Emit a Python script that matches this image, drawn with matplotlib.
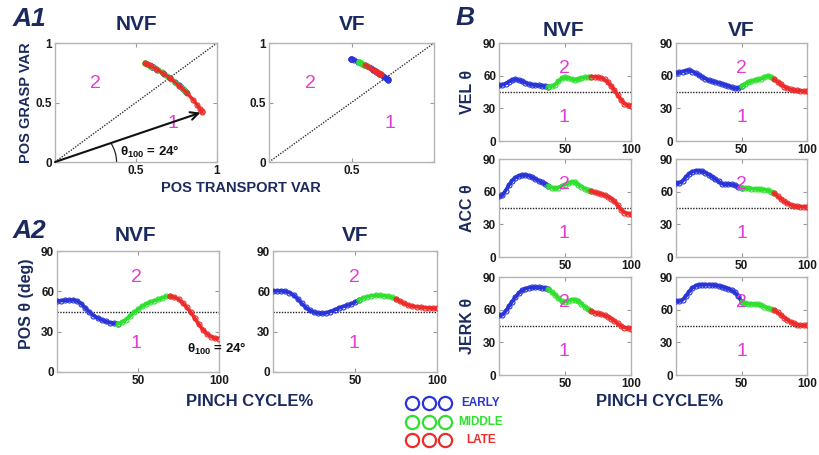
import numpy as np
import matplotlib
matplotlib.use("Agg")
import matplotlib.pyplot as plt
from matplotlib.lines import Line2D
from matplotlib.patches import Arc

plt.rcParams['font.family'] = ['Liberation Sans', 'DejaVu Sans']
plt.rcParams['mathtext.fontset'] = 'custom'
plt.rcParams['mathtext.rm'] = 'Liberation Sans'
plt.rcParams['mathtext.bf'] = 'Liberation Sans:bold'

# ---------------- data ----------------
pct = np.arange(0, 100.1, 2.5)  # pinch cycle %

pos_nvf = [52.8, 53.0, 53.3, 53.5, 53.6, 52.8, 50.8, 47.5, 44.7, 42.0, 40.3, 38.9, 37.6, 36.7,
           36.2, 36.0, 37.0, 39.0, 41.6, 44.4, 46.5, 48.8, 50.5, 52.0, 53.0, 54.0, 55.2, 56.2,
           56.3, 55.6, 54.2, 51.5, 48.2, 44.6, 40.0, 35.5, 31.5, 28.5, 26.3, 25.2, 24.8]
pos_vf = [60.3, 60.3, 60.3, 60.0, 59.0, 57.3, 54.5, 51.0, 48.0, 45.8, 44.5, 43.8, 43.6, 44.0,
          45.0, 46.2, 47.5, 48.6, 49.5, 50.6, 52.0, 53.6, 55.0, 56.0, 56.7, 57.0, 57.0, 56.8,
          56.3, 55.5, 54.3, 52.6, 51.0, 49.8, 49.0, 48.5, 48.1, 47.8, 47.6, 47.5, 47.4]
vel_nvf = [51.1, 51.5, 52.8, 54.5, 56.0, 56.8, 56.0, 54.8, 53.5, 52.4, 51.8, 51.4, 51.1, 50.8,
           50.3, 49.9, 50.3, 51.8, 54.8, 57.5, 58.4, 57.9, 57.0, 56.2, 56.8, 57.9, 58.5, 59.0,
           59.1, 58.9, 58.6, 58.0, 56.5, 54.0, 50.5, 46.5, 42.0, 37.8, 34.3, 32.8, 32.1]
vel_vf = [62.4, 63.0, 63.8, 64.6, 64.8, 63.8, 62.4, 60.5, 58.8, 57.2, 55.8, 54.9, 54.2, 53.4,
          52.5, 51.5, 50.5, 49.3, 48.3, 48.4, 50.2, 52.3, 53.8, 55.0, 55.8, 56.5, 57.3, 58.6,
          60.0, 58.8, 56.5, 54.5, 52.2, 50.0, 48.5, 47.4, 46.8, 46.4, 46.1, 45.8, 45.6]
acc_nvf = [55.7, 56.5, 61.0, 66.0, 70.2, 73.0, 74.5, 75.2, 75.3, 74.7, 73.3, 71.6, 70.1, 68.6,
           67.0, 65.2, 63.6, 63.0, 63.8, 65.3, 66.5, 67.8, 69.0, 68.8, 66.5, 64.5, 62.7, 61.3,
           60.5, 59.5, 58.7, 57.9, 56.8, 55.3, 53.6, 51.0, 47.3, 43.5, 40.8, 39.8, 39.5]
acc_vf = [67.7, 68.0, 69.7, 73.3, 76.5, 78.3, 79.2, 79.3, 78.8, 77.3, 75.7, 73.7, 71.5, 69.4,
          67.4, 66.8, 67.0, 66.6, 65.7, 64.6, 63.3, 63.1, 63.1, 62.8, 62.5, 62.3, 62.0, 61.8,
          61.4, 60.0, 58.4, 56.0, 53.5, 51.2, 49.3, 48.0, 46.9, 46.4, 46.2, 46.2, 46.2]
jerk_nvf = [54.8, 55.3, 58.5, 63.0, 67.5, 71.8, 75.2, 77.7, 79.3, 80.2, 80.5, 80.6, 80.5, 80.3,
            79.8, 78.8, 76.2, 73.8, 70.5, 67.8, 67.3, 68.0, 69.3, 69.3, 68.0, 65.5, 62.8, 60.3,
            58.5, 57.3, 56.5, 55.7, 54.8, 53.5, 51.7, 49.6, 47.3, 45.1, 43.6, 42.8, 42.6]
jerk_vf = [67.7, 67.8, 69.0, 72.3, 76.5, 80.0, 82.0, 82.8, 83.0, 83.0, 83.0, 82.8, 82.4, 81.8,
           81.2, 80.3, 79.2, 77.8, 75.8, 72.5, 67.5, 65.8, 65.5, 65.3, 65.1, 64.8, 64.0, 62.8,
           61.6, 60.7, 59.6, 57.5, 55.2, 52.8, 50.7, 48.8, 47.4, 46.3, 45.8, 45.6, 45.5]

# phase boundaries (pinch cycle %): end of EARLY, end of MIDDLE
phase_nvf = [37.5, 70.0]
phase_vf_pos = [52.5, 75.0]
phase_vf_b = [50.0, 75.0]

theta_100 = 24  # deg
boundary_deg = 45
phase_names = ["EARLY", "MIDDLE", "LATE"]

# ---------------- style ----------------
W, H = 819, 455
BLUE, GREEN, RED = '#2a35d8', '#2fe02f', '#ee2b2b'
PH_COLORS = [BLUE, GREEN, RED]
NAVY = '#1b2a5e'
MAG = '#e43cd2'
SPINE = '#b4b4b4'

fig = plt.figure(figsize=(W / 100, H / 100), dpi=100)
fig.patch.set_facecolor('white')


def add_ax(l, t, r, b):
    return fig.add_axes([l / W, 1 - b / H, (r - l) / W, (b - t) / H])


def ftext(x, y, s, **kw):
    return fig.text(x / W, 1 - y / H, s, **kw)


def style(ax):
    for sp in ax.spines.values():
        sp.set_color(SPINE)
        sp.set_linewidth(1.0)
    ax.tick_params(direction='in', top=True, right=True, length=3, width=0.8,
                   color='#999999', labelsize=8.5, pad=2, labelcolor='#1a1a1a')
    for lab in ax.get_xticklabels() + ax.get_yticklabels():
        lab.set_fontweight('bold')


def draw_phases(ax, x, y, bounds, order=(0, 1, 2), ms=3.6, lw=2.6):
    x = np.asarray(x)
    y = np.asarray(y)
    i1 = int(np.argmin(np.abs(pct - bounds[0])))
    i2 = int(np.argmin(np.abs(pct - bounds[1])))
    segs = [(0, i1), (i1, i2), (i2, len(x) - 1)]
    for k in order:
        a, b = segs[k]
        ax.plot(x[a:b + 1], y[a:b + 1], color=PH_COLORS[k], lw=lw, marker='o', ms=ms,
                mfc='none', mew=0.8, solid_capstyle='round', zorder=3 + k * 0.01)


def time_panel(ax, y, bounds, two_xy, one_xy):
    ax.axhline(boundary_deg, color='#222222', ls=(0, (1, 1)), lw=1.0, zorder=2)
    draw_phases(ax, pct, y, bounds)
    ax.set_xlim(0, 100)
    ax.set_ylim(0, 90)
    ax.set_xticks([50, 100])
    ax.set_yticks([0, 30, 60, 90])
    ax.text(*two_xy, '2', color=MAG, fontsize=14, ha='center', va='center', zorder=5)
    ax.text(*one_xy, '1', color=MAG, fontsize=14, ha='center', va='center', zorder=5)
    style(ax)


# ---------------- A1 ----------------
for (l, r, th, bounds, order, xtl) in [(55, 217, pos_nvf, phase_nvf, (0, 2, 1), ["0.5", "1"]),
                                      (269, 434, pos_vf, phase_vf_pos, (0, 1, 2), ["0.5", ""])]:
    ax = add_ax(l, 43, r, 162)
    rad = np.deg2rad(np.asarray(th))
    transport = np.cos(rad)
    grasp = np.sin(rad)
    ax.plot([0, 1], [0, 1], color='#333333', ls=(0, (1, 1)), lw=1.0, zorder=2)
    draw_phases(ax, transport, grasp, bounds, order=order, ms=3.6, lw=2.4)
    ax.set_xlim(0, 1)
    ax.set_ylim(0, 1)
    ax.set_xticks([0.5, 1])
    ax.set_xticklabels(xtl)
    ax.set_yticks([0, 0.5, 1])
    ax.set_yticklabels(["0", "0.5", "1"])
    ax.text(0.25, 0.66, '2', color=MAG, fontsize=14, ha='center', va='center')
    ax.text(0.73, 0.32, '1', color=MAG, fontsize=14, ha='center', va='center')
    style(ax)
    if l == 55:
        ex, ey = transport[-1], grasp[-1]
        ax.annotate('', xy=(ex - 0.01, ey - 0.005), xytext=(0, 0),
                    arrowprops=dict(arrowstyle='->', color='#111111', lw=1.5,
                                    mutation_scale=14, shrinkA=0, shrinkB=0), zorder=4)
        ang = np.degrees(np.arctan2(ey, ex))
        ax.add_patch(Arc((0, 0), 0.76, 0.76, theta1=0, theta2=ang, color='#222222', lw=0.9))
        ax.text(0.40, 0.085, r'θ$_{\mathbf{100}}$ = 24°', fontsize=9.5, fontweight='bold',
                color='#111111', ha='left', va='center')

# ---------------- A2 ----------------
ax = add_ax(57, 251, 219, 372)
time_panel(ax, pos_nvf, phase_nvf, (49, 70), (49, 21))
ax.text(80, 17.5, r'θ$_{\mathbf{100}}$ = 24°', fontsize=9.5, fontweight='bold',
        color='#111111', ha='left', va='center', clip_on=False, zorder=6)
ax = add_ax(273, 251, 437, 372)
time_panel(ax, pos_vf, phase_vf_pos, (49.5, 70), (49.5, 21))

# ---------------- B ----------------
rows = [(43, 141), (159, 257), (277, 375)]
b_nvf = [vel_nvf, acc_nvf, jerk_nvf]
b_vf = [vel_vf, acc_vf, jerk_vf]
b_labels = ['VEL θ', 'ACC θ', 'JERK θ']
for i, (t, b) in enumerate(rows):
    ax = add_ax(499, t, 631, b)
    time_panel(ax, b_nvf[i], phase_nvf, (49.5, 67), (49.5, 22))
    ax = add_ax(676, t, 807, b)
    time_panel(ax, b_vf[i], phase_vf_b, (50, 67), (50, 22))
    ftext(468, (t + b) / 2, b_labels[i], rotation=90, ha='center', va='center',
          fontsize=11.5, fontweight='bold', color=NAVY)

# ---------------- texts ----------------
ftext(13, 19, 'A1', fontsize=19, fontweight='bold', style='italic', color=NAVY,
      ha='left', va='center')
ftext(13, 231, 'A2', fontsize=19, fontweight='bold', style='italic', color=NAVY,
      ha='left', va='center')
ftext(456, 18, 'B', fontsize=19, fontweight='bold', style='italic', color=NAVY,
      ha='left', va='center')

for (x, y, s) in [(136, 25, 'NVF'), (352, 25, 'VF'), (135, 235, 'NVF'), (355, 235, 'VF'),
                  (563, 30, 'NVF'), (741, 30, 'VF')]:
    ftext(x, y, s, fontsize=15, fontweight='bold', color=NAVY, ha='center', va='center')

ftext(26, 103, 'POS GRASP VAR', rotation=90, fontsize=10.5, fontweight='bold', color=NAVY,
      ha='center', va='center')
ftext(241, 188, 'POS TRANSPORT VAR', fontsize=10.5, fontweight='bold', color=NAVY,
      ha='center', va='center')
ftext(27, 304, 'POS θ (deg)', rotation=90, fontsize=11.5, fontweight='bold', color=NAVY,
      ha='center', va='center')
ftext(250, 402, 'PINCH CYCLE%', fontsize=12, fontweight='bold', color=NAVY,
      ha='center', va='center')
ftext(660, 402, 'PINCH CYCLE%', fontsize=12, fontweight='bold', color=NAVY,
      ha='center', va='center')

# ---------------- legend ----------------
for k, (yy, name) in enumerate(zip([402.7, 421.7, 440.0], phase_names)):
    for xx in [411.7, 428.5, 445.3]:
        fig.add_artist(Line2D([xx / W], [1 - yy / H], transform=fig.transFigure,
                              marker='o', ms=9.5, mfc='none', mec=PH_COLORS[k], mew=1.6,
                              ls='none'))
    ftext(481, yy, name, fontsize=8.5, fontweight='bold', color=PH_COLORS[k],
          ha='center', va='center')

fig.savefig('out.png', dpi=100, facecolor='white')
